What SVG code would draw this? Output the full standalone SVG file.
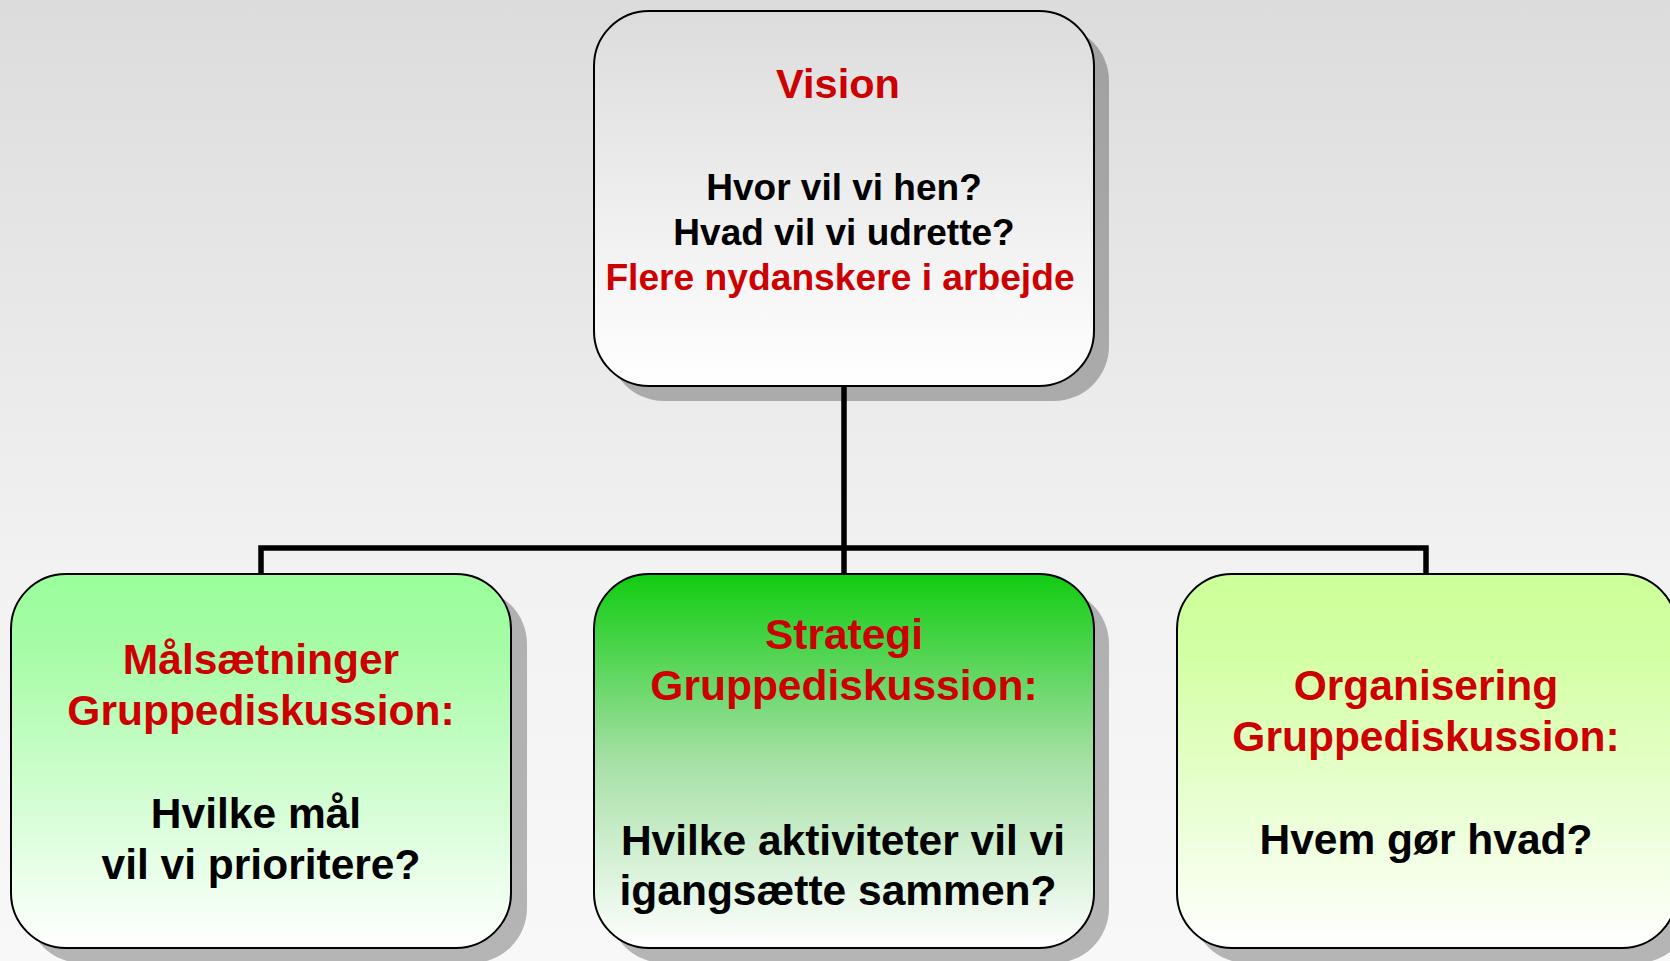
<svg xmlns="http://www.w3.org/2000/svg" width="1670" height="961" viewBox="0 0 1670 961">
<defs>
<linearGradient id="bg" x1="0" y1="0" x2="0" y2="1">
<stop offset="0" stop-color="#dcdcdc"/>
<stop offset="0.6" stop-color="#f2f2f2"/>
<stop offset="1" stop-color="#f8f8f8"/>
</linearGradient>
<linearGradient id="gTop" x1="0" y1="0" x2="0" y2="1">
<stop offset="0" stop-color="#dcdcdc"/>
<stop offset="1" stop-color="#ffffff"/>
</linearGradient>
<linearGradient id="gLeft" x1="0" y1="0" x2="0" y2="1">
<stop offset="0" stop-color="#99ff99"/>
<stop offset="0.2" stop-color="#a6fca6"/>
<stop offset="1" stop-color="#ffffff"/>
</linearGradient>
<linearGradient id="gMid" x1="0" y1="0" x2="0" y2="1">
<stop offset="0" stop-color="#11cc11"/>
<stop offset="0.5" stop-color="#a6e0a6"/>
<stop offset="1" stop-color="#ffffff"/>
</linearGradient>
<linearGradient id="gRight" x1="0" y1="0" x2="0" y2="1">
<stop offset="0" stop-color="#ccff99"/>
<stop offset="0.2" stop-color="#d2ffa2"/>
<stop offset="1" stop-color="#ffffff"/>
</linearGradient>
</defs>
<style>
.box{stroke:#000;stroke-width:2}
.shadow{fill:#000;fill-opacity:0.27}
.conn{fill:none;stroke:#000;stroke-width:5.5}
text{font-family:"Liberation Sans",Arial,sans-serif;font-weight:bold;text-anchor:middle}
.red{fill:#cc0000}
.blk{fill:#000}
</style>
<rect x="0" y="0" width="1670" height="961" fill="url(#bg)"/>
<g id="connectors">
<path class="conn" d="M844,386 V548 M261,574 V548 H1426 V574 M844,548 V574"/>
</g>
<g id="vision">
<rect class="shadow" x="609" y="26" width="500" height="375" rx="55"/>
<rect class="box" x="594" y="11" width="500" height="375" rx="55" fill="url(#gTop)"/>
<text class="red" x="838" y="98" font-size="41.5">Vision</text>
<text class="blk" x="844" y="200" font-size="37">Hvor vil vi hen?</text>
<text class="blk" x="844" y="245" font-size="37">Hvad vil vi udrette?</text>
<text class="red" x="840" y="290" font-size="37.2">Flere nydanskere i arbejde</text>
</g>
<g id="maalsaetninger">
<rect class="shadow" x="27" y="589" width="500" height="374" rx="55"/>
<rect class="box" x="11" y="574" width="500" height="374" rx="55" fill="url(#gLeft)"/>
<text class="red" x="261" y="674" font-size="42.5">Målsætninger</text>
<text class="red" x="261" y="725" font-size="42.5">Gruppediskussion:</text>
<text class="blk" x="256" y="828" font-size="42.5">Hvilke mål</text>
<text class="blk" x="261" y="879" font-size="42.5">vil vi prioritere?</text>
</g>
<g id="strategi">
<rect class="shadow" x="609" y="589" width="500" height="374" rx="55"/>
<rect class="box" x="594" y="574" width="500" height="374" rx="55" fill="url(#gMid)"/>
<text class="red" x="844" y="649" font-size="42.5">Strategi</text>
<text class="red" x="844" y="700" font-size="42.5">Gruppediskussion:</text>
<text class="blk" x="843" y="855" font-size="42.5">Hvilke aktiviteter vil vi</text>
<text class="blk" x="838" y="905" font-size="42.5">igangsætte sammen?</text>
</g>
<g id="organisering">
<rect class="shadow" x="1192" y="589" width="500" height="374" rx="55"/>
<rect class="box" x="1177" y="574" width="500" height="374" rx="55" fill="url(#gRight)"/>
<text class="red" x="1426" y="700" font-size="42.5">Organisering</text>
<text class="red" x="1426" y="751" font-size="42.5">Gruppediskussion:</text>
<text class="blk" x="1426" y="854" font-size="42.5">Hvem gør hvad?</text>
</g>
</svg>
